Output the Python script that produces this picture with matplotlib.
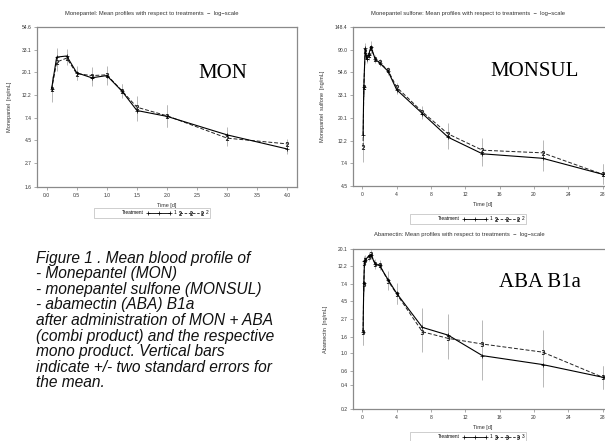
import numpy as np
import matplotlib
matplotlib.use("Agg")
import matplotlib.pyplot as plt
from matplotlib.lines import Line2D

plt.rcParams['font.family'] = ['Liberation Sans', 'DejaVu Sans']

# ---------------------------------------------------------------------------
# data (ng/mL; err = half width of the +/- 2 SE bar
# in ln units)
# ---------------------------------------------------------------------------
mon_t = [0.083, 0.167, 0.333, 0.5, 0.75, 1.0, 1.25, 1.5, 2.0, 3.0, 4.0]
mon_1 = [14.0, 28.1, 28.8, 19.9, 17.8, 18.7, 13.3, 8.65, 7.6, 5.05, 3.7]
mon_2 = [13.8, 25.2, 27.5, 19.5, 18.7, 19.0, 13.4, 9.3, 7.7, 4.7, 4.14]
mon_err = [0.28, 0.2, 0.15, 0.15, 0.18, 0.2, 0.15, 0.24, 0.24, 0.18, 0.1]

sul_t = [0.083, 0.167, 0.333, 0.5, 0.75, 1.0, 1.5, 2.0, 3.0, 4.0, 7, 10, 14, 21, 28]
sul_1 = [13.8, 39.4, 93, 74, 81, 96.5, 73, 67.5, 56, 37.3, 22.1, 13.1, 9.1, 8.25, 5.8]
sul_2 = [10.6, 39.4, 88, 76, 80, 93, 74, 68, 57, 39.4, 22.9, 14.1, 9.85, 9.3, 5.8]
sul_err = [0.34, 0.2, 0.12, 0.1, 0.1, 0.12, 0.08, 0.08, 0.08, 0.1, 0.12, 0.25, 0.26, 0.28, 0.22]

aba_t = [0.083, 0.167, 0.25, 0.333, 0.75, 1.0, 1.5, 2.0, 3.0, 4.0, 7, 10, 14, 21, 28]
aba_1 = [1.85, 7.6, 14.1, 14.8, 16.3, 17.1, 12.9, 12.5, 8.3, 5.6, 2.1, 1.68, 0.93, 0.72, 0.50]
aba_3 = [1.85, 7.4, 13.5, 14.5, 16.0, 17.5, 13.2, 12.8, 8.0, 5.5, 1.85, 1.53, 1.3, 1.03, 0.50]
aba_err = [0.38, 0.25, 0.15, 0.12, 0.12, 0.12, 0.12, 0.12, 0.25, 0.3, 0.57, 0.6, 0.7, 0.65, 0.33]

mon_yticks = [1.6, 2.7, 4.5, 7.4, 12.2, 20.1, 33.1, 54.6]
sul_yticks = [4.5, 7.4, 12.2, 20.1, 33.1, 54.6, 90.0, 148.4]
aba_yticks = [0.2, 0.4, 0.6, 1.0, 1.6, 2.7, 4.5, 7.4, 12.2, 20.1]
mon_xticks = [0.0, 0.5, 1.0, 1.5, 2.0, 2.5, 3.0, 3.5, 4.0]
day_xticks = [0, 4, 8, 12, 16, 20, 24, 28]

caption = [
    "Figure 1 . Mean blood profile of",
    "- Monepantel (MON)",
    "- monepantel sulfone (MONSUL)",
    "- abamectin (ABA) B1a",
    "after administration of MON + ABA",
    "(combi product) and the respective",
    "mono product. Vertical bars",
    "indicate +/- two standard errors for",
    "the mean.",
]

W, H = 605, 441
fig = plt.figure(figsize=(W / 100, H / 100), dpi=100)


def px_axes(left, top, right, bottom):
    return fig.add_axes([left / W, 1 - bottom / H, (right - left) / W, (bottom - top) / H])


def panel(ax, t, a, b, err, bmark, yticks, ylnlim, xticks, xlim, xfmt,
          title, title_x, ylabel, big, big_xy):
    t = np.array(t)
    e = np.exp(np.array(err))
    for y in (a, b):
        y = np.array(y)
        ax.vlines(t, y / e, y * e, color='#b8b8b8', lw=0.7, zorder=1)
    ax.plot(t, a, '-', color='black', lw=0.8, marker='+', ms=3.5, mew=0.5, zorder=3)
    ax.plot(t, b, '--', color='#222222', lw=0.7, dashes=(4, 2), marker=bmark, ms=3.2, mew=0.3, zorder=2)
    ax.set_yscale('log')
    ax.set_ylim(np.exp(ylnlim[0]), np.exp(ylnlim[1]))
    ax.set_yticks(yticks)
    ax.set_yticklabels([f"{v:.1f}" for v in yticks])
    ax.minorticks_off()
    ax.set_xticks(xticks)
    ax.set_xticklabels([xfmt.format(v) for v in xticks])
    ax.set_xlim(*xlim)
    for s in ax.spines.values():
        s.set_color('#8a8a8a')
        s.set_linewidth(0.9)
    ax.tick_params(labelsize=3.6, length=2, width=0.5, color='#8a8a8a', pad=2,
                   labelcolor='#333333')
    ax.set_title(title, fontsize=4.2, color='#333333', pad=9, x=title_x)
    ax.set_xlabel("Time [d]", fontsize=4.0, color='#333333', labelpad=4)
    ax.set_ylabel(ylabel, fontsize=4.0, color='#333333', labelpad=7)
    ax.text(big_xy[0], big_xy[1], big, transform=ax.transAxes, ha='center', va='center',
            fontsize=15, family='Liberation Serif')


def legend(cx, cy, lab2, mark2):
    handles = [Line2D([], [], lw=0, color='none'),
               Line2D([], [], color='black', lw=0.6, marker='+', ms=3.2, mew=0.5),
               Line2D([], [], color='#222222', lw=0.6, ls='--', dashes=(3, 2), marker=mark2, ms=2.8, mew=0.3)]
    lg = fig.legend(handles, ['Treatment', '1', lab2], ncol=3, loc='center',
                    bbox_to_anchor=(cx / W, 1 - cy / H), fontsize=3.4, numpoints=3,
                    handlelength=5.2, handletextpad=0.4, columnspacing=0.6,
                    borderpad=0.5, fancybox=False, edgecolor='#bbbbbb', framealpha=1)
    lg.get_frame().set_linewidth(0.5)


ax1 = px_axes(37, 27, 297, 187)
panel(ax1, mon_t, mon_1, mon_2, mon_err, '$2$', mon_yticks, (0.5, 4.0), mon_xticks,
      (-0.16, 4.16), "{:.1f}",
      "Monepantel: Mean profiles with respect to treatments  \u2212  log\u2212scale", 0.44,
      "Monepantel  [ng/mL]", "MON", (0.715, 0.71))
legend(152, 213, '2', '$2$')

ax2 = px_axes(353, 27, 612, 186)
panel(ax2, sul_t, sul_1, sul_2, sul_err, '$2$', sul_yticks, (1.5, 5.0), day_xticks,
      (-1.09, 29.1), "{:d}",
      "Monepantel sulfone: Mean profiles with respect to treatments  \u2212  log\u2212scale", 0.444,
      "Monepantel  sulfone  [ng/mL]", "MONSUL", (0.70, 0.717))
legend(468, 219, '2', '$2$')

ax3 = px_axes(353, 249, 612, 409)
panel(ax3, aba_t, aba_1, aba_3, aba_err, '$3$', aba_yticks, (-1.5, 3.0), day_xticks,
      (-1.09, 29.1), "{:d}",
      "Abamectin: Mean profiles with respect to treatments  \u2212  log\u2212scale", 0.41,
      "Abamectin  [ng/mL]", "ABA B1a", (0.72, 0.79))
legend(468, 437, '3', '$3$')

for i, line in enumerate(caption):
    fig.text(36 / W, 1 - (258 + i * 15.6) / H, line, ha='left', va='center',
             fontsize=11.2, style='italic', color='#111111')

fig.savefig("out.png", dpi=100)
